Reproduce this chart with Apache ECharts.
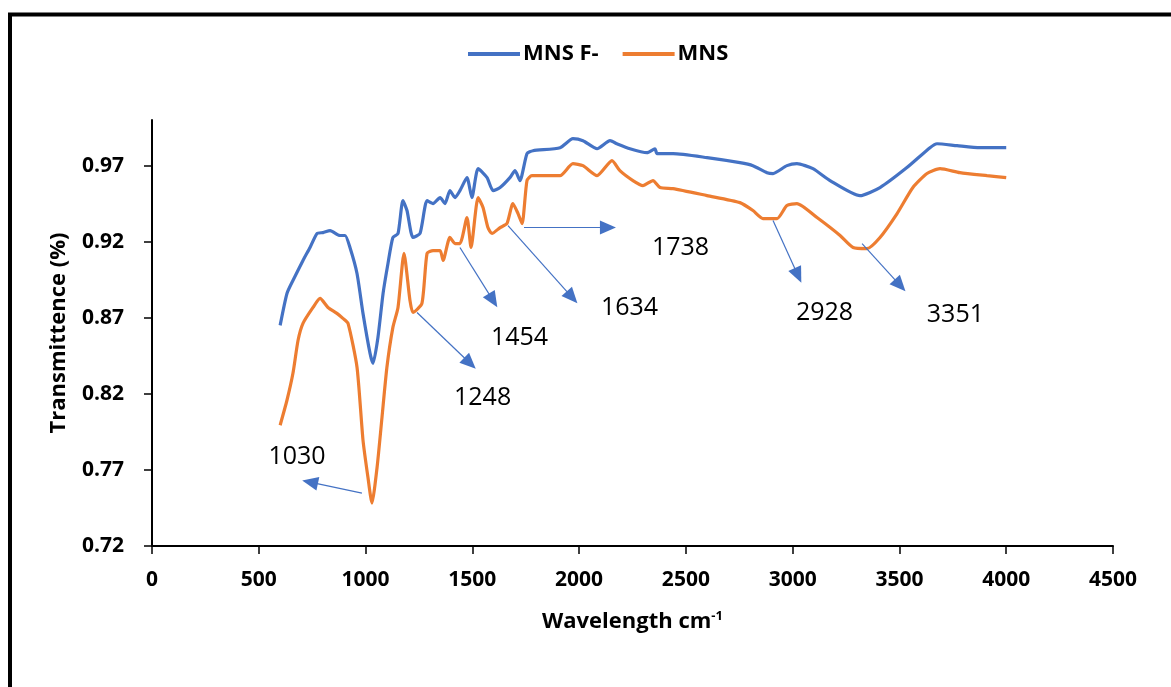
<!DOCTYPE html>
<html>
<head>
<meta charset="utf-8">
<script src="https://cdn.jsdelivr.net/npm/echarts@6/dist/echarts.min.js"></script>
<style>
html,body{margin:0;padding:0;background:#fff;}
#chart{width:1171px;height:687px;}
</style>
</head>
<body>
<div id="chart"></div>
<script>
// ---- Data ----
const mnsFWave = [600,632,660,707,740,773,801,834,880,904,927,960,988,1021,1035,1058,1082,1105,1128,1152,1175,1194,1222,1255,1288,1316,1349,1372,1395,1419,1442,1475,1498,1527,1569,1597,1630,1676,1700,1723,1756,1784,1911,1971,2018,2084,2145,2177,2238,2318,2355,2365,2440,2599,2753,2814,2880,2908,2973,3020,3095,3175,3315,3409,3535,3643,3676,3770,3877,4000];
const mnsFVal  = [0.865,0.886,0.8945,0.9077,0.9162,0.9254,0.926,0.9273,0.9241,0.9241,0.9162,0.8991,0.8729,0.8466,0.8401,0.8571,0.886,0.9057,0.9228,0.9254,0.947,0.9405,0.9228,0.9254,0.947,0.9451,0.949,0.9451,0.9536,0.949,0.9536,0.9621,0.949,0.968,0.9621,0.9536,0.9556,0.9621,0.9667,0.9602,0.9779,0.9798,0.9818,0.9877,0.9864,0.9811,0.9864,0.9844,0.9811,0.9785,0.9811,0.9779,0.9779,0.9753,0.972,0.970,0.9654,0.9648,0.970,0.9713,0.968,0.9602,0.9503,0.9556,0.9687,0.9818,0.9844,0.9831,0.9818,0.9818];

const mnsWave = [600,632,660,684,707,754,787,824,866,894,918,960,988,1011,1030,1054,1077,1100,1128,1152,1180,1208,1222,1264,1288,1316,1349,1363,1395,1419,1442,1475,1494,1527,1550,1573,1592,1630,1662,1690,1714,1733,1756,1779,1864,1911,1971,2018,2084,2154,2191,2252,2299,2346,2379,2440,2599,2753,2814,2861,2927,2973,3020,3114,3222,3283,3348,3409,3489,3563,3629,3690,3783,3910,4000];
const mnsVal  = [0.7994,0.8158,0.8335,0.8552,0.8663,0.8768,0.8827,0.8768,0.8729,0.8696,0.8663,0.8375,0.7896,0.7653,0.7482,0.7718,0.8046,0.8375,0.8637,0.8768,0.9123,0.8814,0.8735,0.8795,0.9123,0.9142,0.9142,0.9077,0.9228,0.9188,0.9188,0.9359,0.9162,0.949,0.9425,0.9293,0.9254,0.9293,0.9319,0.9451,0.9385,0.9319,0.9602,0.9634,0.9634,0.9634,0.9713,0.970,0.9634,0.9733,0.9667,0.9602,0.9569,0.9602,0.9556,0.9549,0.9503,0.9457,0.9405,0.9352,0.9352,0.9438,0.9451,0.9359,0.9241,0.9162,0.9155,0.9228,0.9385,0.9556,0.9648,0.968,0.9654,0.9634,0.9621];

const seriesNames = ['MNS F-', 'MNS'];
const xTicks = [0,500,1000,1500,2000,2500,3000,3500,4000,4500];
const yTicks = [0.72,0.77,0.82,0.87,0.92,0.97];

// peak annotations: label text, label position, arrow start, arrow tip (data units)
const peakLabels = ['1030','1248','1454','1634','1738','2928','3351'];
const labelPos   = [[679,0.7784],[1548,0.8171],[1721,0.8571],[2236,0.8768],[2475,0.9162],[3149,0.8729],[3762,0.8716]];
const arrowFrom  = [[983,0.7548],[1241,0.8735],[1442,0.9162],[1667,0.9306],[1742,0.9293],[2908,0.9339],[3325,0.9188]];
const arrowTo    = [[740,0.762],[1489,0.8401],[1597,0.8814],[1967,0.8834],[2135,0.9293],[3025,0.8978],[3503,0.8913]];

const FONT = '"Open Sans", "DejaVu Sans", sans-serif';
const chart = echarts.init(document.getElementById('chart'));

const pairs = (xs, ys) => xs.map((x, i) => [x, ys[i]]);

chart.setOption({
  animation: false,
  backgroundColor: '#fff',
  graphic: [{
    type: 'rect', silent: true, z: 100,
    shape: { x: 10, y: 14.5, width: 1250, height: 800 },
    style: { fill: 'none', stroke: '#000', lineWidth: 4 }
  }],
  legend: {
    data: seriesNames,
    left: 463, top: 38,
    icon: 'rect', itemWidth: 52, itemHeight: 4, itemGap: 24,
    textStyle: { fontFamily: FONT, fontWeight: 'bold', fontSize: 22, color: '#000', padding: [0, 0, 0, -2] }
  },
  grid: { left: 152, right: 58, top: 120, bottom: 141, containLabel: false },
  xAxis: {
    type: 'value', min: 0, max: 4500, interval: 500,
    name: 'Wavelength cm{sup|-1}',
    nameLocation: 'middle', nameGap: 64,
    nameTextStyle: {
      fontFamily: FONT, fontWeight: 'bold', fontSize: 22, color: '#000',
      rich: { sup: { fontFamily: FONT, fontWeight: 'bold', fontSize: 13, color: '#000', verticalAlign: 'top', padding: [0, 0, 10, 0] } }
    },
    axisLine: { lineStyle: { color: '#000', width: 2 } },
    axisTick: { show: true, length: 8, lineStyle: { color: '#000', width: 1.5 }, customValues: xTicks },
    axisLabel: { fontFamily: FONT, fontWeight: 'bold', fontSize: 21, color: '#000', margin: 24, customValues: xTicks, formatter: v => String(v) },
    splitLine: { show: false }
  },
  yAxis: {
    type: 'value', min: 0.72, max: 1.0, interval: 0.05,
    name: 'Transmittence (%)',
    nameLocation: 'middle', nameGap: 82,
    nameTextStyle: { fontFamily: FONT, fontWeight: 'bold', fontSize: 22, color: '#000' },
    axisLine: { show: true, lineStyle: { color: '#000', width: 2 } },
    axisTick: { show: true, length: 8, lineStyle: { color: '#000', width: 1.5 }, customValues: yTicks },
    axisLabel: {
      fontFamily: FONT, fontWeight: 'bold', fontSize: 21, color: '#000', margin: 28,
      customValues: yTicks, formatter: v => v.toFixed(2)
    },
    splitLine: { show: false }
  },
  series: [
    {
      name: seriesNames[0], type: 'line', data: pairs(mnsFWave, mnsFVal),
      showSymbol: false, smooth: 0.2, color: '#4472C4',
      lineStyle: { width: 3.2, color: '#4472C4' },
      markPoint: {
        silent: true, symbol: 'circle', symbolSize: 0,
        label: { show: true, position: 'inside', formatter: '{b}', fontFamily: FONT, fontSize: 25, color: '#000' },
        data: peakLabels.map((t, i) => ({ name: t, coord: labelPos[i] }))
      }
    },
    {
      name: seriesNames[1], type: 'line', data: pairs(mnsWave, mnsVal),
      showSymbol: false, smooth: 0.2, color: '#ED7D31',
      lineStyle: { width: 3.2, color: '#ED7D31' },
      markLine: {
        silent: true, symbol: ['none', 'triangle'], symbolSize: [14, 16],
        label: { show: false },
        lineStyle: { type: 'solid', width: 1.2, color: '#4472C4' },
        itemStyle: { color: '#4472C4' },
        emphasis: { disabled: true },
        data: arrowFrom.map((a, i) => [{ coord: a }, { coord: arrowTo[i] }])
      }
    }
  ]
});
</script>
</body>
</html>
